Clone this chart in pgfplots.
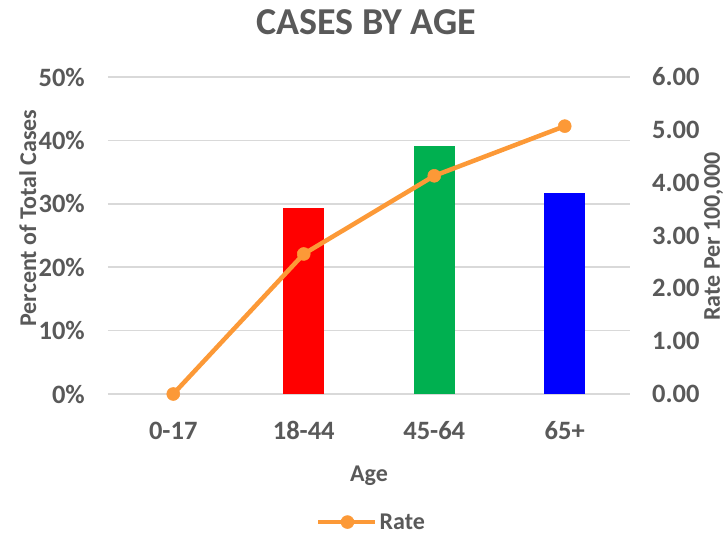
\documentclass[border=0pt]{standalone}
\usepackage{fontspec}
\setmainfont{Carlito}
\usepackage{pgfplots}
\pgfplotsset{compat=1.18}
\definecolor{textgray}{RGB}{89,89,89}
\definecolor{gridgray}{RGB}{217,217,217}
\definecolor{barred}{RGB}{255,0,0}
\definecolor{bargreen}{RGB}{0,176,80}
\definecolor{barblue}{RGB}{0,0,255}
\definecolor{rateorange}{RGB}{252,153,55}
\newcommand{\tickfont}{\bfseries\fontsize{26.5}{31}\selectfont}
\newcommand{\lblfont}{\bfseries\fontsize{24}{28}\selectfont}
\pgfplotsset{
  base/.style={
    width=522pt, height=317pt, scale only axis,
    xmin=-0.5, xmax=3.5, clip=false,
    major tick length=0pt,
    tick label style={font=\tickfont, text=textgray, inner sep=0pt},
    label style={font=\lblfont, text=textgray},
    axis line style={draw=none},
  }
}
\begin{document}
\begin{tikzpicture}
\useasboundingbox (-108pt,-141pt) rectangle (618pt,394pt);
% left axis: share of cases
\begin{axis}[base,
    axis x line*=bottom, axis y line*=left,
    ymin=0, ymax=50,
    ytick={0,10,20,30,40,50},
    yticklabels={0\%,10\%,20\%,30\%,40\%,50\%},
    yticklabel style={anchor=east, xshift=-23pt},
    ymajorgrids, major grid style={draw=gridgray, line width=1.5pt},
    xtick={0,1,2,3},
    xticklabels={0-17,18-44,45-64,65+},
    xticklabel style={anchor=north, yshift=-27.5pt},
    xlabel={Age},
    xlabel style={at={(axis description cs:0.5,0)}, anchor=base, yshift=-87.7pt},
    ylabel={Percent of Total Cases},
    ylabel style={at={(axis description cs:-0.1379,0.555)}, anchor=base},
    title={CASES BY AGE},
    title style={at={(axis description cs:0.4943,1)}, anchor=base, yshift=37pt,
                 font=\bfseries\fontsize{38}{45}\selectfont, text=textgray},
  ]
  \addplot[ybar, bar width=41pt, fill=barred, draw=none] coordinates {(1,29.3)};
  \addplot[ybar, bar width=41pt, fill=bargreen, draw=none] coordinates {(2,39.1)};
  \addplot[ybar, bar width=41pt, fill=barblue, draw=none] coordinates {(3,31.7)};
\end{axis}
% right axis: rate per 100,000
\begin{axis}[base,
    axis x line=none, axis y line*=right,
    ymin=0, ymax=6,
    ytick={0,1,2,3,4,5,6},
    yticklabels={0.00,1.00,2.00,3.00,4.00,5.00,6.00},
    yticklabel style={anchor=west, xshift=22pt},
    ylabel={Rate Per 100,000},
    ylabel style={at={(axis description cs:1.1724,0.497)}, anchor=base},
    legend style={draw=none, fill=none, inner sep=0pt,
                  at={(axis description cs:0.3985,-0.404)}, anchor=west,
                  font=\lblfont, text=textgray, nodes={inner sep=2pt}},
    legend image code/.code={
      \draw[#1, mark repeat=2, mark phase=2] plot coordinates {(0pt,0pt) (29pt,0pt) (57pt,0pt)};
    },
  ]
  \addplot[color=rateorange, line width=4.5pt, mark=*, mark size=6.5pt,
           mark options={fill=rateorange, draw=rateorange, line width=0.5pt}]
    coordinates {(0,0) (1,2.65) (2,4.13) (3,5.07)};
  \addlegendentry{Rate}
\end{axis}
\end{tikzpicture}
\end{document}
